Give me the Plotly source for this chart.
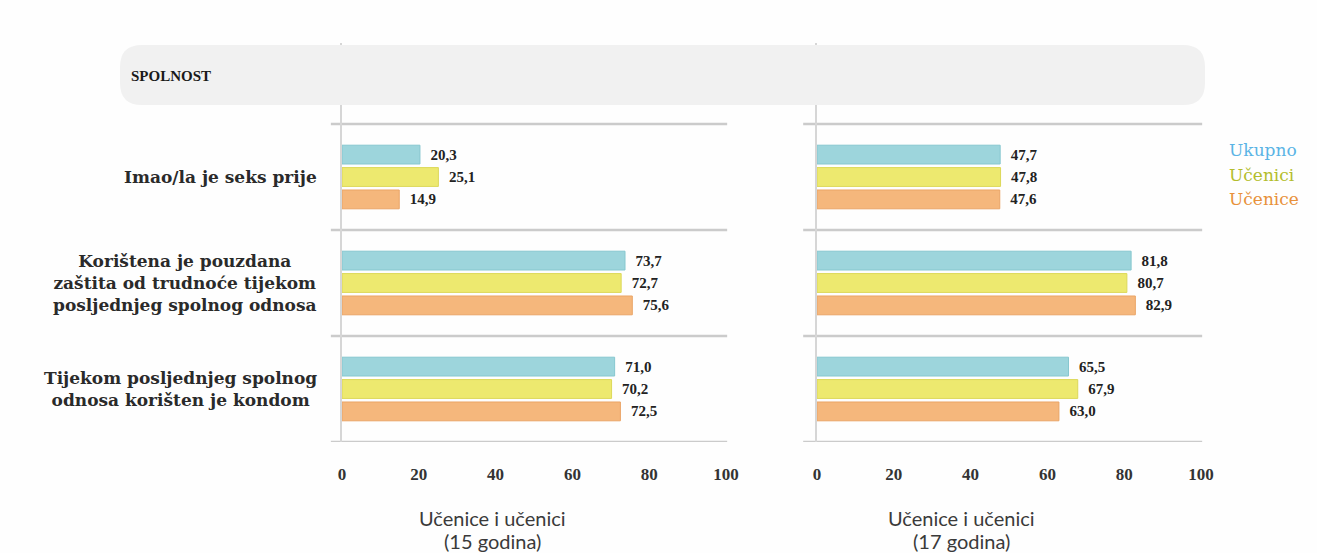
import plotly.graph_objects as go

categories = [
    "Imao/la je seks prije",
    "Korištena je pouzdana<br>zaštita od trudnoće tijekom<br>posljednjeg spolnog odnosa",
    "Tijekom posljednjeg spolnog<br>odnosa korišten je kondom",
]
series_names = ["Ukupno", "Učenici", "Učenice"]
age15_ukupno = [20.3, 73.7, 71.0]
age15_ucenici = [25.1, 72.7, 70.2]
age15_ucenice = [14.9, 75.6, 72.5]
age17_ukupno = [47.7, 81.8, 65.5]
age17_ucenici = [47.8, 80.7, 67.9]
age17_ucenice = [47.6, 82.9, 63.0]
x_ticks = [0, 20, 40, 60, 80, 100]
panel_titles = ["Učenice i učenici<br>(15 godina)", "Učenice i učenici<br>(17 godina)"]
header = "SPOLNOST"

W, H = 1317, 553
fill_colors = ["#9dd5dc", "#ede96f", "#f5b77c"]
line_colors = ["#86c7cf", "#dcd85a", "#eaa466"]
legend_colors = ["#5ab4e5", "#b3bd2c", "#e8913a"]
SERIF = "Liberation Serif"

def fmt(v):
    return "  " + f"{v:.1f}".replace(".", ",")

def px_x(p):
    return p / W

def px_y(p):
    return 1 - p / H

fig = go.Figure()
pos = list(range(len(categories)))
panels = [
    ("x", "y", [age15_ukupno, age15_ucenici, age15_ucenice]),
    ("x2", "y2", [age17_ukupno, age17_ucenici, age17_ucenice]),
]
for xa, ya, data in panels:
    for i, vals in enumerate(data):
        fig.add_trace(go.Bar(
            x=vals, y=pos, orientation="h", name=series_names[i],
            xaxis=xa, yaxis=ya, showlegend=False,
            marker=dict(color=fill_colors[i], line=dict(color=line_colors[i], width=1)),
            text=[fmt(v) for v in vals], textposition="outside",
            textfont=dict(family=SERIF, size=15, color="#222222", weight="bold"),
            constraintext="none", cliponaxis=False, hoverinfo="skip",
        ))

dom1 = [px_x(342), px_x(726)]
dom2 = [px_x(817), px_x(1201)]
ydom = [px_y(442), px_y(43)]
unit = (442 - 124) / 3.0
top = 2.5 - (442 - 43) / unit

axis_common = dict(range=[0, 100], tickvals=x_ticks, ticks="", showgrid=False, zeroline=False,
                   showline=False, fixedrange=True, ticklabelstandoff=20, automargin=False,
                   tickfont=dict(family=SERIF, size=17, color="#333333", weight="bold"))
yaxis_common = dict(range=[2.5, top], showticklabels=False, ticks="", showgrid=False, zeroline=False,
                    showline=True, linecolor="#d6d6d6", linewidth=2, fixedrange=True, automargin=False)

fig.update_layout(
    width=W, height=H, autosize=False,
    margin=dict(l=0, r=0, t=0, b=0, pad=0),
    paper_bgcolor="#fefefe", plot_bgcolor="rgba(0,0,0,0)",
    barmode="group", bargap=0.366, bargroupgap=0.16,
    xaxis=dict(domain=dom1, anchor="y", **axis_common),
    xaxis2=dict(domain=dom2, anchor="y2", **axis_common),
    yaxis=dict(domain=ydom, anchor="x", **yaxis_common),
    yaxis2=dict(domain=ydom, anchor="x2", **yaxis_common),
)

shapes = []
for xr, yr, x0, x1 in [("x domain", "y", -0.029, 1.003), ("x2 domain", "y2", -0.036, 1.003)]:
    for g in [-0.5, 0.5, 1.5, 2.5]:
        shapes.append(dict(type="line", xref=xr, yref=yr, x0=x0, x1=x1, y0=g, y1=g,
                           line=dict(color="#cbcbcb", width=2.5), layer="below"))

bx0, bx1, by0, by1, r = 120, 1205, 45, 105, 22
def P(x, y):
    return f"{px_x(x):.5f},{px_y(y):.5f}"
path = (f"M {P(bx0 + r, by0)} L {P(bx1 - r, by0)} Q {P(bx1, by0)} {P(bx1, by0 + r)} "
        f"L {P(bx1, by1 - r)} Q {P(bx1, by1)} {P(bx1 - r, by1)} "
        f"L {P(bx0 + r, by1)} Q {P(bx0, by1)} {P(bx0, by1 - r)} "
        f"L {P(bx0, by0 + r)} Q {P(bx0, by0)} {P(bx0 + r, by0)} Z")
shapes.append(dict(type="path", xref="paper", yref="paper", path=path,
                   fillcolor="#f1f1f1", line=dict(width=0), layer="above"))
fig.update_layout(shapes=shapes)

ann = []
ann.append(dict(xref="paper", yref="paper", x=px_x(129), y=px_y(76), text=header, showarrow=False,
                xanchor="left", yanchor="middle",
                font=dict(family=SERIF, size=15, color="#1a1a1a", weight="bold")))
for i, c in enumerate(categories):
    ann.append(dict(xref="paper", yref="y", x=px_x(319), y=pos[i], text=c, showarrow=False,
                    xanchor="right", yanchor="middle", align="center",
                    font=dict(family="DejaVu Serif", size=17, color="#2a2a2a", weight="bold")))
for t, cx in zip(panel_titles, [492, 961]):
    for k, ln in enumerate(t.split("<br>")):
        ann.append(dict(xref="paper", yref="paper", x=px_x(cx), y=px_y(518 + 23 * k), text=ln,
                        showarrow=False, xanchor="center", yanchor="middle",
                        font=dict(family="Lato", size=20, color="#3a3a3a")))
for i, (n, c) in enumerate(zip(series_names, legend_colors)):
    ann.append(dict(xref="paper", yref="paper", x=px_x(1227), y=px_y(150 + 24.5 * i), text=n,
                    showarrow=False, xanchor="left", yanchor="middle",
                    font=dict(family="DejaVu Serif", size=17, color=c)))
fig.update_layout(annotations=ann)

fig.write_html("out.html", config={"displayModeBar": False, "staticPlot": True},
               post_script="document.body.style.margin='0';document.body.style.overflow='hidden';")
